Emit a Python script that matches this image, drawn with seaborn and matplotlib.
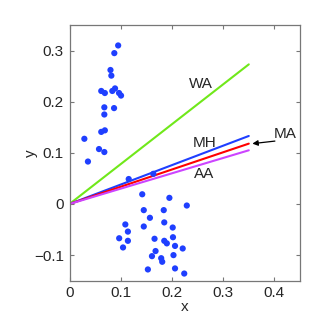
import numpy as np
import pandas as pd
import matplotlib
matplotlib.use("Agg")
import matplotlib.pyplot as plt
import seaborn as sns

# upper cluster
x_up = [0.095, 0.0875, 0.080, 0.0817, 0.062, 0.069, 0.0836, 0.0889, 0.0967, 0.1006,
        0.068, 0.087, 0.068, 0.062, 0.069, 0.029, 0.0576, 0.068, 0.036]
y_up = [0.310, 0.295, 0.262, 0.251, 0.221, 0.217, 0.221, 0.226, 0.217, 0.212,
        0.189, 0.1875, 0.175, 0.141, 0.144, 0.1275, 0.1074, 0.1016, 0.083]
# points close to the lines
x_mid = [0.1156, 0.1637]
y_mid = [0.0488, 0.059]
# lower cluster
x_low = [0.142, 0.195, 0.229, 0.145, 0.184, 0.157, 0.185, 0.109, 0.145, 0.2015,
         0.114, 0.097, 0.114, 0.166, 0.185, 0.190, 0.202, 0.206, 0.221, 0.1045,
         0.168, 0.161, 0.203, 0.179, 0.181, 0.153, 0.206, 0.224]
y_low = [0.019, 0.012, -0.003, -0.012, -0.012, -0.027, -0.036, -0.040, -0.044, -0.046,
         -0.054, -0.067, -0.072, -0.068, -0.072, -0.077, -0.065, -0.082, -0.087, -0.085,
         -0.092, -0.102, -0.100, -0.106, -0.113, -0.128, -0.126, -0.136]

# direction lines from origin to x = 0.35
line_names = ["WA", "MH", "MA", "AA"]
line_x = [0.0, 0.35]
line_end_y = [0.273, 0.133, 0.118, 0.105]
line_colors = ["#70e81a", "#1f3fff", "#ff0000", "#cc44ff"]

sns.set_style("white")
plt.rcParams["font.family"] = ["Liberation Sans", "DejaVu Sans"]

pts = pd.DataFrame({"x": x_up + x_mid + x_low, "y": y_up + y_mid + y_low})

fig = plt.figure(figsize=(3.33, 3.27), dpi=100)
ax = fig.add_axes([69.5 / 333, 1 - 280.7 / 327, 230.5 / 333, 255.7 / 327])

for name, yend, c in zip(line_names, line_end_y, line_colors):
    df = pd.DataFrame({"x": line_x, "y": [0.0, yend]})
    sns.lineplot(data=df, x="x", y="y", color=c, lw=1.5, ax=ax)

sns.scatterplot(data=pts, x="x", y="y", color="#1f3fff", s=20, edgecolor="none", ax=ax, zorder=3)

fs = 11
ax.text(0.257, 0.234, "WA", fontsize=fs, ha="center", va="center")
ax.text(0.263, 0.120, "MH", fontsize=fs, ha="center", va="center")
ax.text(0.262, 0.0586, "AA", fontsize=fs, ha="center", va="center")
ax.text(0.421, 0.136, "MA", fontsize=fs, ha="center", va="center")
ax.annotate("", xy=(0.357, 0.118), xytext=(0.401, 0.123),
            arrowprops=dict(arrowstyle="-|>", color="black", lw=0.9,
                            shrinkA=0, shrinkB=0, mutation_scale=8))

ax.set_xlim(0, 0.45)
ax.set_ylim(-0.15, 0.35)
ax.set_xticks([0, 0.1, 0.2, 0.3, 0.4])
ax.set_xticklabels(["0", "0.1", "0.2", "0.3", "0.4"])
ax.set_yticks([-0.1, 0, 0.1, 0.2, 0.3])
ax.set_yticklabels(["\u22120.1", "0", "0.1", "0.2", "0.3"])
ax.set_xlabel("x", fontsize=fs, labelpad=0)
ax.set_ylabel("y", fontsize=fs, labelpad=-3)
ax.tick_params(direction="in", length=3, color="#777777", labelsize=fs,
               top=True, right=True, bottom=True, left=True, pad=4)
for sp in ax.spines.values():
    sp.set_color("#777777")
    sp.set_linewidth(0.9)

fig.savefig("out.png", dpi=100)
